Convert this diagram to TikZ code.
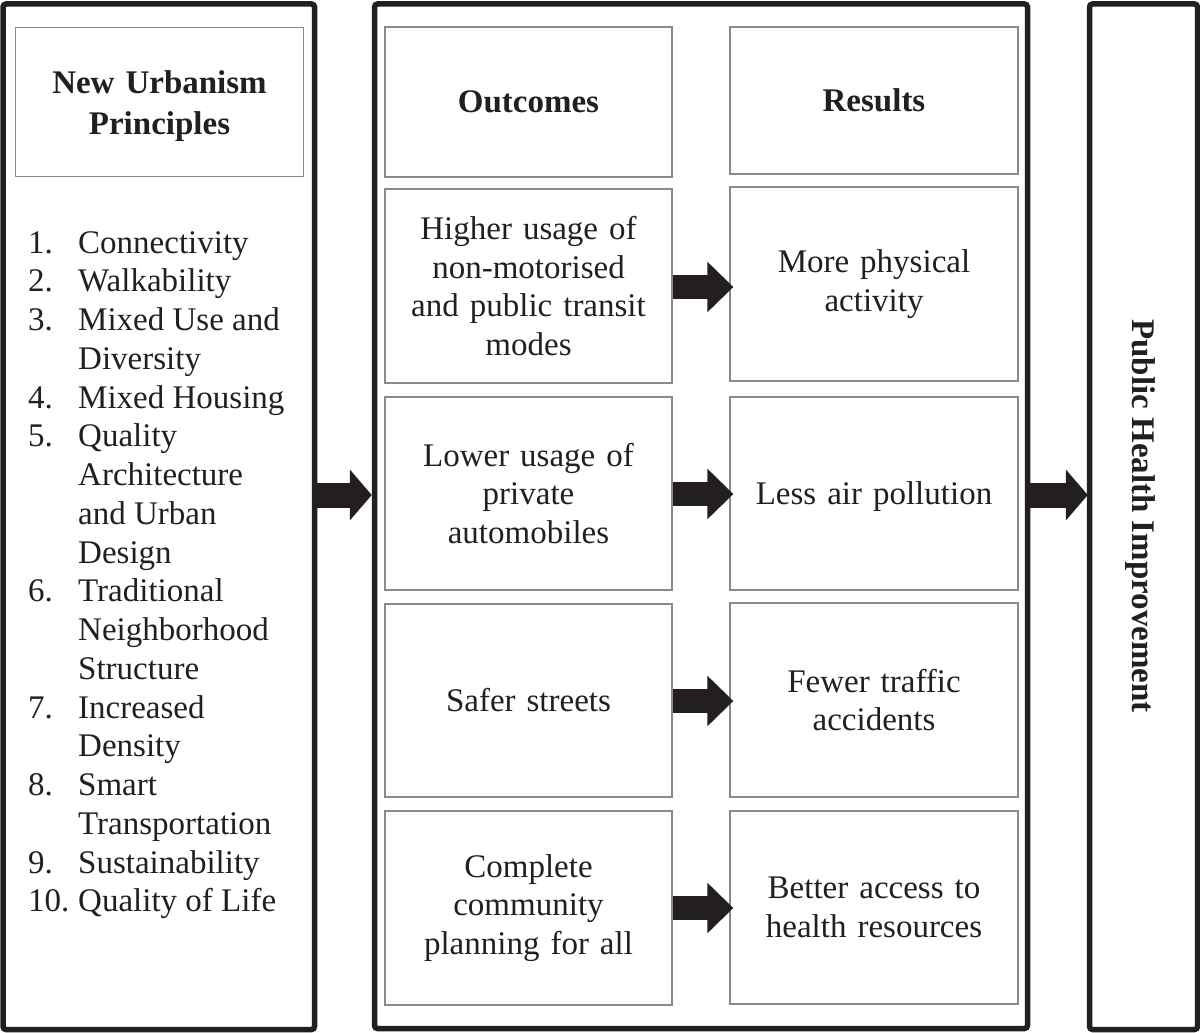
\documentclass[tikz,border=0pt]{standalone}
\usepackage{fontspec}
\setmainfont{Liberation Serif}
\usetikzlibrary{arrows.meta}
\definecolor{ink}{HTML}{231F20}
\definecolor{thin}{HTML}{8A8A8A}
\begin{document}
\begin{tikzpicture}[x=1pt,y=-1pt,
  outer/.style={draw=ink,line width=5.5pt,rounded corners=3pt,inner sep=0pt},
  inbox/.style={draw=thin,line width=1.3pt,inner sep=4pt,align=center,text width=274pt,
    font=\fontsize{33}{38.75}\selectfont,text=ink},
  headbox/.style={inbox,font=\fontsize{33}{40.5}\selectfont\bfseries},
  listtxt/.style={anchor=base west,inner sep=0pt,font=\fontsize{33}{38.75}\selectfont,text=ink},
  smallarrow/.style={draw=ink,line width=24pt,-{Triangle[length=26pt,width=49pt]}},
  bigarrow/.style={draw=ink,line width=25pt,-{Triangle[length=22pt,width=50pt]}}]
\fill[white] (0,0) rectangle (1200,1033);
\useasboundingbox (0,0) rectangle (1200,1033);
% outer frames
\node[outer,minimum width=311.5pt,minimum height=1025.5pt] (lbox) at (158.75,516.75) {};
\node[outer,minimum width=653pt,minimum height=1024.5pt] (mbox) at (701,516.25) {};
\node[outer,minimum width=108pt,minimum height=1025.5pt] (rbox) at (1143.5,516.75) {};
\node[rotate=-90,inner sep=0pt,text=ink,font=\fontsize{33}{38.75}\selectfont\bfseries] (rtext) at (1140,516) {Public Health Improvement};
% left header
\node[headbox,text depth=39pt,minimum width=287.6pt,minimum height=149.4pt] (lhead) at (159.5,102) {New Urbanism\\Principles};
% list
\foreach \n/\k in {1./0,2./1,3./2,4./4,5./5,6./9,7./12,8./14,9./16,10./17}
  \node[listtxt] (num\k) at (28,253+\k*38.75) {\n};
\foreach \k/\t in {0/Connectivity,1/Walkability,2/Mixed Use and,3/Diversity,4/Mixed Housing,
  5/Quality,6/Architecture,7/and Urban,8/Design,9/Traditional,10/Neighborhood,11/Structure,
  12/Increased,13/Density,14/Smart,15/Transportation,16/Sustainability,17/Quality of Life}
  \node[listtxt] (line\k) at (78,253+\k*38.75) {\t};
% middle headers
\node[headbox,minimum width=287pt,minimum height=150pt] (ohead) at (528.5,102) {Outcomes};
\node[headbox,minimum width=288pt,minimum height=147pt] (rhead) at (874,100.5) {Results};
% outcome boxes
\node[inbox,minimum width=287pt,minimum height=194pt] (o1) at (528.5,286) {Higher usage of\\non-motorised\\and public transit\\modes};
\node[inbox,minimum width=287pt,minimum height=193pt] (o2) at (528.5,493.5) {Lower usage of\\private\\automobiles};
\node[inbox,minimum width=287pt,minimum height=193pt] (o3) at (528.5,700.5) {Safer streets};
\node[inbox,minimum width=287pt,minimum height=194pt] (o4) at (528.5,908) {Complete\\community\\planning for all};
% result boxes
\node[inbox,minimum width=288pt,minimum height=194pt] (r1) at (874,284) {More physical\\activity};
\node[inbox,text depth=0pt,minimum width=288pt,minimum height=193pt] (r2) at (874,493.5) {Less air pollution};
\node[inbox,minimum width=288pt,minimum height=194pt] (r3) at (874,700) {Fewer traffic\\accidents};
\node[inbox,minimum width=288pt,minimum height=193pt] (r4) at (874,907.5) {Better access to\\health resources};
% arrows
\draw[smallarrow] (o1.east |- 0,287) -- ([xshift=4pt]r1.west |- 0,287);
\draw[smallarrow] (o2.east |- 0,494) -- ([xshift=4pt]r2.west |- 0,494);
\draw[smallarrow] (o3.east |- 0,701) -- ([xshift=4pt]r3.west |- 0,701);
\draw[smallarrow] (o4.east |- 0,908) -- ([xshift=4pt]r4.west |- 0,908);
\draw[bigarrow] (lbox.east |- 0,495) -- (mbox.west |- 0,495);
\draw[bigarrow] (mbox.east |- 0,495) -- ([xshift=1pt]rbox.west |- 0,495);
\end{tikzpicture}
\end{document}
